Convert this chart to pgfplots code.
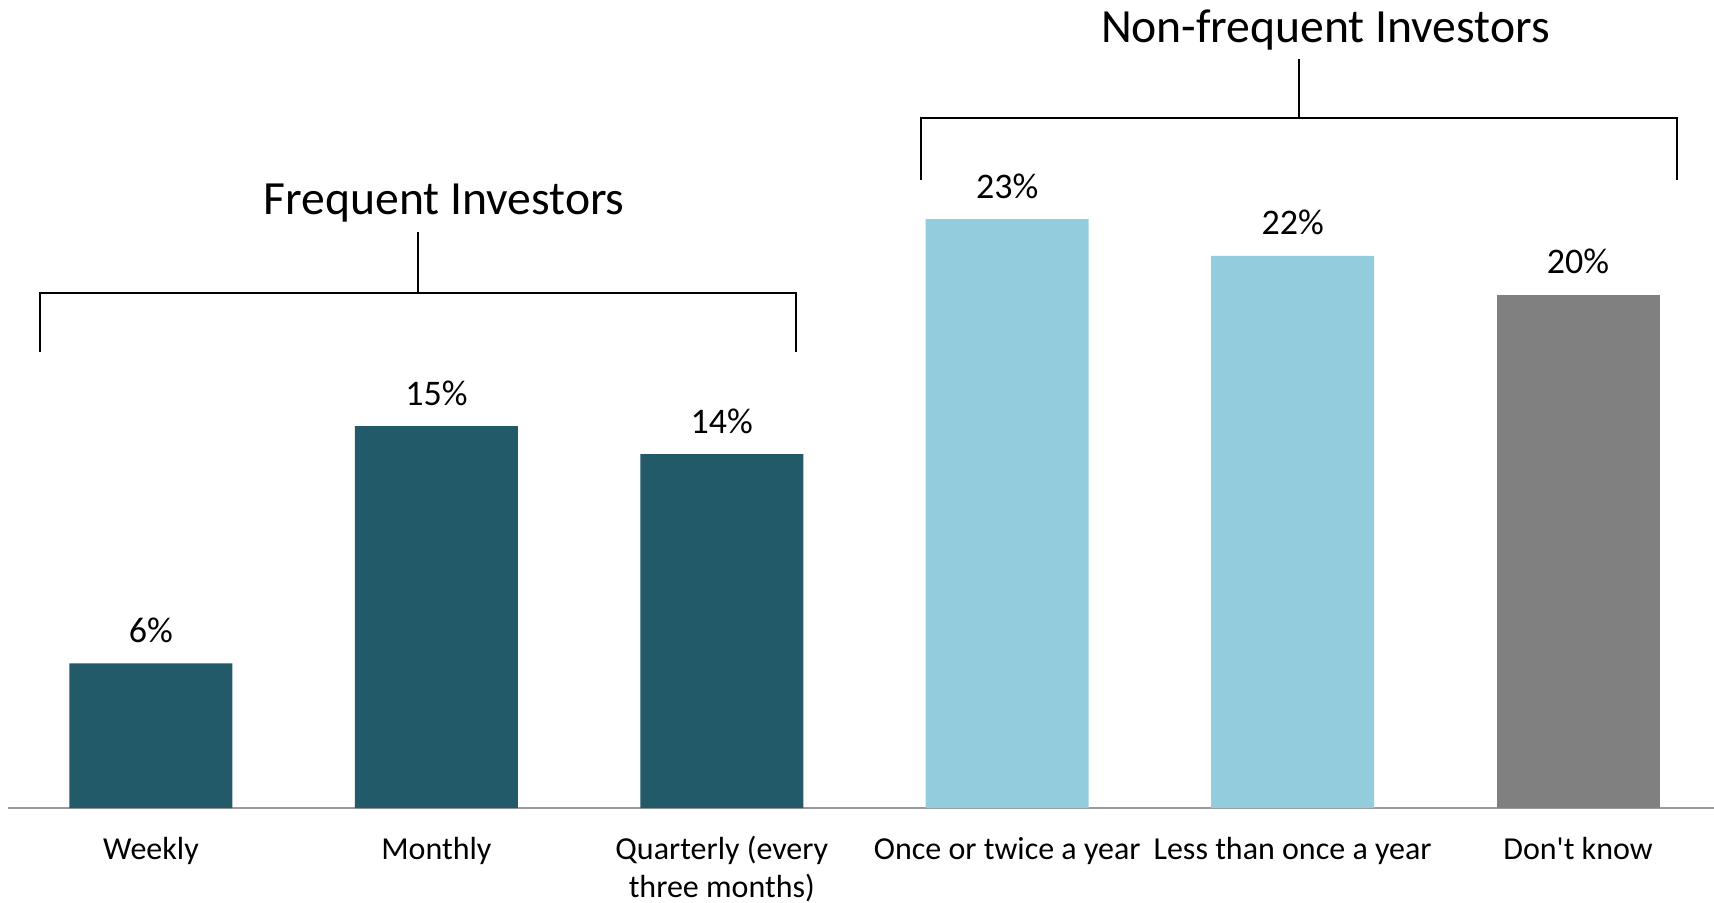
\documentclass[border=0pt]{standalone}
\usepackage{pgfplots}
\pgfplotsset{compat=1.18}
\usepackage{fontspec}
\setmainfont{Carlito}

\definecolor{barDark}{HTML}{225A69}
\definecolor{barLight}{HTML}{93CDDD}
\definecolor{barGray}{HTML}{808080}
\definecolor{axisGray}{HTML}{9A9A9A}

\begin{document}
\begin{tikzpicture}
\begin{axis}[
    scale only axis,
    width=512pt, height=242.4pt,
    xmin=-0.5, xmax=5.48,
    ymin=0, ymax=31.69,
    axis x line*=bottom,
    axis y line=none,
    x axis line style={draw=axisGray, line width=0.7pt, -},
    xtick={0,1,2,3,4,5},
    xticklabels={Weekly, Monthly,
        {\begin{tabular}[t]{@{}c@{}}Quarterly (every\\three months)\end{tabular}},
        Once or twice a year, Less than once a year, Don\textquotesingle t know},
    major tick length=0pt,
    ytick=\empty,
    xticklabel style={anchor=base, yshift=-15.3pt,
        font=\fontsize{9.6}{11.4}\selectfont},
    ybar,
    bar width=0.571,
    /pgf/number format/assume math mode=true,
    nodes near coords={\pgfmathprintnumber[fixed,precision=0]{\pgfplotspointmeta}\%},
    every node near coord/.append style={font=\fontsize{10.8}{13}\selectfont,
        anchor=base, inner sep=0pt, yshift=6.3pt, black},
    clip=false,
]
% frequent investors
\addplot[fill=barDark, draw=none, bar shift=0pt]
    coordinates {(0,5.67) (1,14.98) (2,13.88)};
% non-frequent investors
\addplot[fill=barLight, draw=none, bar shift=0pt]
    coordinates {(3,23.1) (4,21.65)};
\addplot[fill=barGray, draw=none, bar shift=0pt]
    coordinates {(5,20.12)};

% group brackets
\draw[line width=0.6pt] (axis cs:-0.389,17.88) -- (axis cs:-0.389,20.2)
    -- (axis cs:2.260,20.2) -- (axis cs:2.260,17.88);
\draw[line width=0.6pt] (axis cs:0.9355,20.2) -- (axis cs:0.9355,22.59);
\node[anchor=base, font=\fontsize{14.3}{17}\selectfont]
    at (axis cs:1.027,23.29) {Frequent Investors};

\draw[line width=0.6pt] (axis cs:2.698,24.63) -- (axis cs:2.698,27.06)
    -- (axis cs:5.347,27.06) -- (axis cs:5.347,24.63);
\draw[line width=0.6pt] (axis cs:4.022,27.06) -- (axis cs:4.022,29.37);
\node[anchor=base, font=\fontsize{14.3}{17}\selectfont]
    at (axis cs:4.115,30.04) {Non-frequent Investors};

\coordinate (bbA) at (axis cs:-0.529,-3.686);
\coordinate (bbB) at (axis cs:5.4765,31.69);
\end{axis}
\pgfresetboundingbox
\path[use as bounding box] (bbA) rectangle (bbB);
\end{tikzpicture}
\end{document}
